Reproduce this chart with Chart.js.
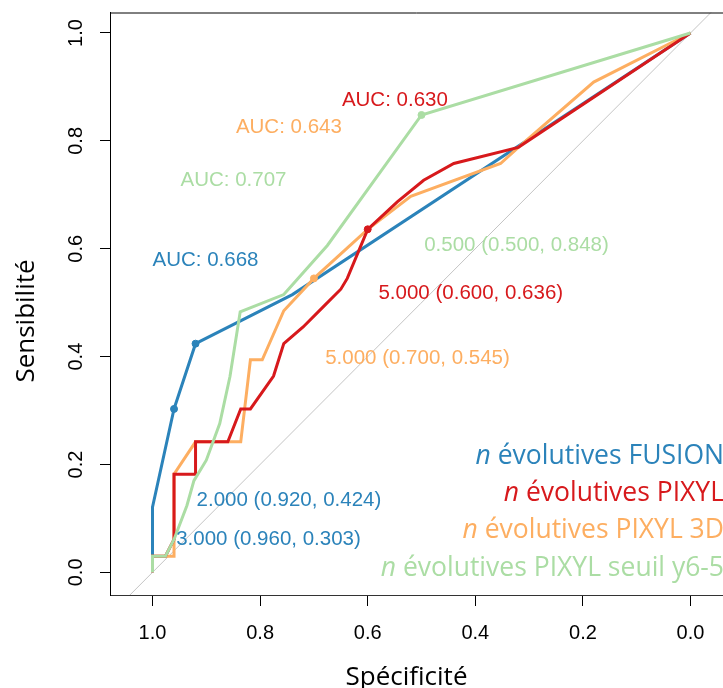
<!DOCTYPE html>
<html>
<head>
<meta charset="utf-8">
<script src="https://cdn.jsdelivr.net/npm/chart.js@4.4.1/dist/chart.umd.min.js"></script>
<style>
  html, body { margin: 0; padding: 0; background: #fff; }
  canvas { display: block; }
</style>
</head>
<body>
<canvas id="roc" width="723" height="688"></canvas>
<script>
// series (legend order)
const seriesNames = ["FUSION", "PIXYL", "PIXYL 3D", "PIXYL seuil y6-5"];
const seriesColors = ["#2B83BA", "#D7191C", "#FDAE61", "#ABDDA4"];
const aucValues = [0.668, 0.630, 0.643, 0.707];

// ROC curves (specificity, sensitivity)
const fusionSpec = [1, 1, 1, 0.96, 0.92, 0.74, 0];
const fusionSens = [0, 0.030, 0.121, 0.303, 0.424, 0.515, 1];

const pixylSpec = [1, 1, 0.976, 0.96, 0.96, 0.92, 0.92, 0.86, 0.836, 0.818, 0.775, 0.756, 0.72, 0.68, 0.65, 0.638, 0.6, 0.545, 0.496, 0.44, 0.32, 0];
const pixylSens = [0, 0.030, 0.030, 0.061, 0.182, 0.182, 0.242, 0.242, 0.303, 0.303, 0.364, 0.424, 0.455, 0.495, 0.525, 0.545, 0.636, 0.687, 0.727, 0.758, 0.788, 1];

const pixyl3dSpec = [1, 1, 0.96, 0.96, 0.92, 0.836, 0.818, 0.796, 0.756, 0.7, 0.6, 0.52, 0.353, 0.32, 0.18, 0];
const pixyl3dSens = [0, 0.030, 0.030, 0.182, 0.242, 0.242, 0.394, 0.394, 0.485, 0.545, 0.636, 0.697, 0.758, 0.788, 0.909, 1];

const seuilSpec = [1, 1, 0.976, 0.96, 0.936, 0.923, 0.9, 0.875, 0.856, 0.837, 0.756, 0.675, 0.5, 0];
const seuilSens = [0, 0.030, 0.030, 0.061, 0.124, 0.17, 0.208, 0.276, 0.363, 0.483, 0.515, 0.606, 0.848, 1];

const curveSpec = [fusionSpec, pixylSpec, pixyl3dSpec, seuilSpec];
const curveSens = [fusionSens, pixylSens, pixyl3dSens, seuilSens];

// best thresholds printed on the curves
const bestThr = [[3, 2], [5], [5], [0.5]];
const bestSpec = [[0.96, 0.92], [0.6], [0.7], [0.5]];
const bestSens = [[0.303, 0.424], [0.636], [0.545], [0.848]];

const xTicks = [0, 0.2, 0.4, 0.6, 0.8, 1.0];
const yTicks = [0, 0.2, 0.4, 0.6, 0.8, 1.0];

// where the texts sit, in data units (left edge, middle)
const aucPos = [[1.0, 0.581], [0.648, 0.879], [0.845, 0.828], [0.948, 0.729]];
const thrPos = [[[0.956, 0.065], [0.918, 0.136]], [[0.58, 0.521]], [[0.679, 0.399]], [[0.495, 0.61]]];

const drawOrder = [3, 1, 2, 0]; // lower = drawn on top

function pts(xs, ys) {
  return xs.map((v, i) => ({x: v, y: ys[i]}));
}

const datasets = [];
seriesNames.forEach((name, i) => {
  datasets.push({
    label: name,
    data: pts(curveSpec[i], curveSens[i]),
    borderColor: seriesColors[i],
    backgroundColor: seriesColors[i],
    borderWidth: 3,
    pointRadius: 0,
    tension: 0,
    order: drawOrder[i]
  });
  datasets.push({
    label: name + " seuil",
    data: pts(bestSpec[i], bestSens[i]),
    showLine: false,
    pointRadius: 3.5,
    pointBackgroundColor: seriesColors[i],
    pointBorderColor: seriesColors[i],
    order: -1
  });
});
// chance line
datasets.push({
  label: "diag",
  data: [{x: 1.2, y: -0.2}, {x: -0.2, y: 1.2}],
  borderColor: "#c4c4c4",
  borderWidth: 1,
  pointRadius: 0,
  order: 10
});

const tickFont = {family: "'Liberation Sans', Arial, sans-serif", size: 20};
const textFont = '20.5px "Liberation Sans", Arial, sans-serif';
const bigFont = '"Open Sans", "Noto Sans", sans-serif';

function noPad(s) {
  s.paddingTop = 0;
  s.paddingBottom = 0;
  s.paddingLeft = 0;
  s.paddingRight = 0;
}

const rocText = {
  id: "rocText",
  afterDraw(chart) {
    const ctx = chart.ctx;
    const a = chart.chartArea;
    const x = chart.scales.x, y = chart.scales.y;
    ctx.save();

    // top of the box
    ctx.strokeStyle = "#000";
    ctx.lineWidth = 1;
    ctx.beginPath();
    ctx.moveTo(a.left, a.top + 0.5);
    ctx.lineTo(a.right, a.top + 0.5);
    ctx.stroke();

    // AUC and thresholds
    ctx.font = textFont;
    ctx.textAlign = "left";
    ctx.textBaseline = "alphabetic";
    seriesNames.forEach((n, i) => {
      ctx.fillStyle = seriesColors[i];
      ctx.fillText("AUC: " + aucValues[i].toFixed(3),
        x.getPixelForValue(aucPos[i][0]), y.getPixelForValue(aucPos[i][1]) + 7.3);
      bestThr[i].forEach((t, j) => {
        const s = t.toFixed(3) + " (" + bestSpec[i][j].toFixed(3) + ", " + bestSens[i][j].toFixed(3) + ")";
        ctx.fillText(s, x.getPixelForValue(thrPos[i][j][0]), y.getPixelForValue(thrPos[i][j][1]) + 7.3);
      });
    });

    // legend, right aligned, italic n
    const right = a.right + 1;
    seriesNames.forEach((n, i) => {
      const rest = " évolutives " + n;
      ctx.font = "26.5px " + bigFont;
      const w2 = ctx.measureText(rest).width;
      ctx.font = "italic 26.5px " + bigFont;
      const w1 = ctx.measureText("n").width;
      const by = a.bottom - 131.5 + i * 37.4;
      ctx.fillStyle = seriesColors[i];
      ctx.fillText("n", right - w1 - w2, by);
      ctx.font = "26.5px " + bigFont;
      ctx.fillText(rest, right - w2, by);
    });

    // axis titles
    ctx.fillStyle = "#000";
    ctx.font = "26px " + bigFont;
    ctx.textAlign = "center";
    ctx.fillText("Spécificité", 406.5, 685);
    ctx.translate(33.5, 321);
    ctx.rotate(-Math.PI / 2);
    ctx.fillText("Sensibilité", 0, 0);
    ctx.restore();
  }
};

new Chart(document.getElementById("roc"), {
  type: "line",
  data: {datasets: datasets},
  options: {
    responsive: false,
    animation: false,
    devicePixelRatio: 1,
    layout: {autoPadding: false, padding: {top: 12.5, right: 0, left: 0, bottom: 0}},
    plugins: {legend: {display: false}, tooltip: {enabled: false}},
    scales: {
      x: {
        type: "linear",
        reverse: true,
        min: -0.0604,
        max: 1.079,
        afterBuildTicks: s => { s.ticks = xTicks.map(v => ({value: v})); },
        afterFit: s => { s.height = 93; noPad(s); },
        grid: {drawOnChartArea: false, drawTicks: true, tickLength: 11, color: "#000"},
        border: {display: true, color: "#333", width: 1},
        ticks: {
          color: "#000", font: tickFont, padding: 15, autoSkip: false,
          maxRotation: 0, callback: v => v.toFixed(1)
        }
      },
      y: {
        type: "linear",
        min: -0.042,
        max: 1.038,
        afterBuildTicks: s => { s.ticks = yTicks.map(v => ({value: v})); },
        afterFit: s => { s.width = 110; noPad(s); },
        grid: {drawOnChartArea: false, drawTicks: true, tickLength: 10, color: "#000"},
        border: {display: true, color: "#000", width: 1},
        ticks: {
          color: "#000", font: tickFont, padding: 9.5, autoSkip: false,
          minRotation: 90, maxRotation: 90, crossAlign: "center",
          callback: v => v.toFixed(1)
        }
      }
    }
  },
  plugins: [rocText]
});
</script>
</body>
</html>
